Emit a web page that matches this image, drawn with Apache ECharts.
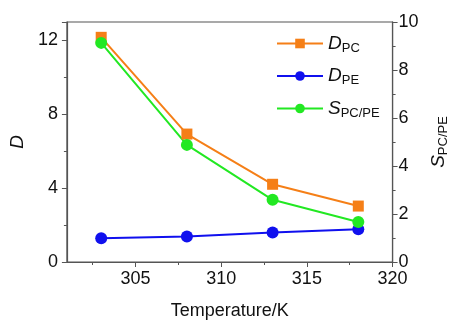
<!DOCTYPE html>
<html><head><meta charset="utf-8">
<script src="https://cdn.jsdelivr.net/npm/echarts@6/dist/echarts.min.js"></script>
<style>html,body{margin:0;padding:0;background:#fff}#c{width:458px;height:325px}</style>
</head><body><div id="c"></div>
<script>
var temperature = [303, 308, 313, 318];
var dPC = [12.17, 6.93, 4.21, 3.03];
var dPE = [1.29, 1.38, 1.60, 1.77];
var sPCPE = [9.13, 4.88, 2.59, 1.67];
var xTicks = [305, 310, 315, 320];
var xMinorTicks = [302.5, 307.5, 312.5, 317.5];
var dTicks = [0, 4, 8, 12];

function pairs(xs, ys){ return xs.map(function(x,i){ return [x, ys[i]]; }); }

var FONT = 'Liberation Sans, Arial, sans-serif';
var AX = '#555';
var chart = echarts.init(document.getElementById('c'), null, {renderer:'canvas'});
var rich = {
  i: {fontStyle:'italic', fontSize:19, fontFamily:FONT, color:'#111'},
  s: {fontSize:13, fontFamily:FONT, color:'#111', padding:[9,0,0,0]}
};
chart.setOption({
  animation:false,
  grid:{left:66, top:22, right:60, bottom:61, show:true, borderColor:AX, borderWidth:1.2, containLabel:false},
  legend:{
    orient:'vertical', left:271, top:29, itemWidth:46, itemHeight:12, itemGap:12,
    textStyle:{rich:rich},
    formatter:function(n){
      if(n==='DPC') return '{i|D}{s|PC}';
      if(n==='DPE') return '{i|D}{s|PE}';
      return '{i|S}{s|PC/PE}';
    },
    data:['DPC','DPE','SPCPE']
  },
  xAxis:[{
    type:'value', min:301, max:320, position:'bottom',
    name:'Temperature/K', nameLocation:'middle', nameGap:40,
    nameTextStyle:{fontSize:18, fontFamily:FONT, color:'#111'},
    axisLine:{lineStyle:{color:AX, width:1.2}},
    axisTick:{customValues:xTicks, length:5, lineStyle:{color:AX}},
    axisLabel:{customValues:xTicks, fontSize:18, fontFamily:FONT, color:'#111', margin:8},
    splitLine:{show:false}
  },{
    type:'value', min:301, max:320, position:'bottom',
    axisLine:{show:false},
    axisTick:{customValues:xMinorTicks, length:3, lineStyle:{color:AX}},
    axisLabel:{show:false}, splitLine:{show:false}
  }],
  yAxis:[{
    type:'value', min:0, max:13, interval:4, position:'left',
    name:'{i|D}', nameLocation:'middle', nameGap:39, nameRotate:90,
    nameTextStyle:{rich:rich},
    axisLine:{show:true, lineStyle:{color:AX, width:1.2}},
    axisTick:{show:true, length:5, lineStyle:{color:AX}},
    minorTick:{show:true, splitNumber:2, length:3, lineStyle:{color:AX}},
    axisLabel:{customValues:dTicks, fontSize:18, fontFamily:FONT, color:'#111', margin:9},
    splitLine:{show:false}
  },{
    type:'value', min:0, max:10, interval:2, position:'right',
    name:'{i|S}{s|PC/PE}', nameLocation:'middle', nameGap:27, nameRotate:90,
    nameTextStyle:{rich:rich},
    axisLine:{show:true, lineStyle:{color:AX, width:1.2}},
    axisTick:{show:true, length:5, lineStyle:{color:AX}},
    minorTick:{show:true, splitNumber:2, length:3, lineStyle:{color:AX}},
    axisLabel:{fontSize:18, fontFamily:FONT, color:'#111', margin:6},
    splitLine:{show:false}
  }],
  series:[
    {name:'DPC', type:'line', xAxisIndex:0, yAxisIndex:0, data:pairs(temperature,dPC),
     symbol:'rect', symbolSize:11, color:'#f57f17', lineStyle:{width:2}},
    {name:'DPE', type:'line', xAxisIndex:0, yAxisIndex:0, data:pairs(temperature,dPE),
     symbol:'circle', symbolSize:12, color:'#1010ee', lineStyle:{width:2}},
    {name:'SPCPE', type:'line', xAxisIndex:0, yAxisIndex:1, data:pairs(temperature,sPCPE),
     symbol:'circle', symbolSize:12, color:'#22e822', lineStyle:{width:2}}
  ]
});
</script></body></html>
